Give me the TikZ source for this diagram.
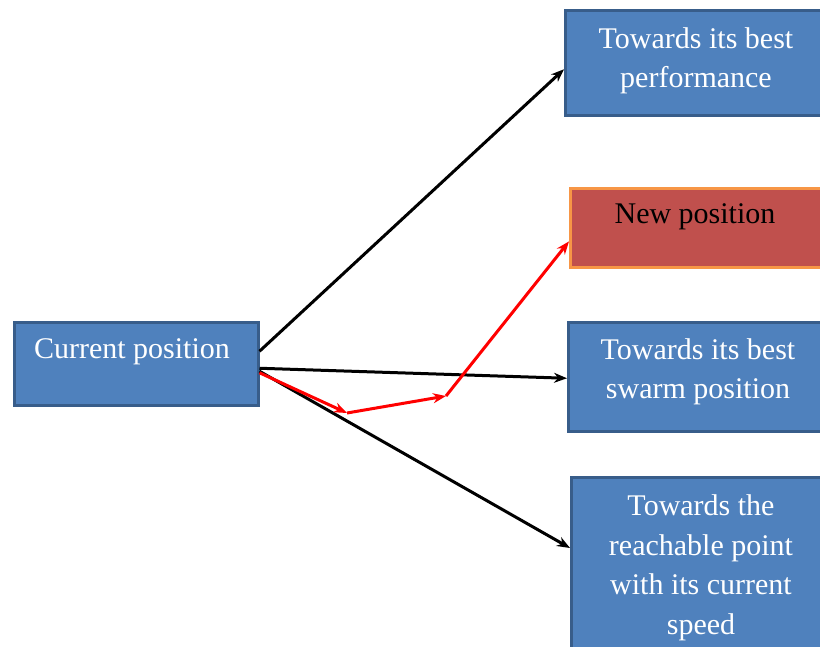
\documentclass[tikz,border=0pt]{standalone}
\usepackage{fontspec}
\setmainfont{Liberation Serif}
\usetikzlibrary{arrows.meta}
\definecolor{boxblue}{HTML}{4F81BD}
\definecolor{boxblueline}{HTML}{385D8A}
\definecolor{boxred}{HTML}{C0504D}
\definecolor{boxorange}{HTML}{F79646}
\tikzset{
  bluebox/.style={draw=boxblueline, fill=boxblue, line width=2.5pt, rectangle,
    anchor=north west, inner sep=0pt},
  redbox/.style={draw=boxorange, fill=boxred, line width=2.8pt, rectangle,
    anchor=north west, inner sep=0pt},
  boxtext/.style={font=\fontsize{30}{39.5}\selectfont, align=center,
    inner sep=0pt, text=white},
  blackarrow/.style={draw=black, line width=3pt,
    -{Stealth[length=13pt,width=10pt]}},
  redarrow/.style={draw=red, line width=3pt,
    -{Stealth[length=13pt,width=10pt]}},
}
\begin{document}
\begin{tikzpicture}[x=1pt,y=-1pt]
\useasboundingbox (0,0) rectangle (820,646);
\clip (0,0) rectangle (820,646);
\fill[white] (0,0) rectangle (820,646);

% boxes
\node[bluebox, minimum width=244pt, minimum height=83pt] (cur) at (13,321) {};
\node[bluebox, minimum width=280pt, minimum height=105pt] (best) at (564,9) {};
\node[redbox, minimum width=280pt, minimum height=79pt] (new) at (569,187) {};
\node[bluebox, minimum width=280pt, minimum height=109pt] (swarm) at (567,321) {};
\node[bluebox, minimum width=280pt, minimum height=190pt] (reach) at (570,476) {};

% labels
\node[boxtext] (curt) at (132,352) {Current position};
\node[boxtext] (bestt) at (696,61) {Towards its best\\performance};
\node[boxtext, text=black] (newt) at (695,217) {New position};
\node[boxtext] (swarmt) at (698,372) {Towards its best\\swarm position};
\node[boxtext] (reacht) at (701,568) {Towards the\\reachable point\\with its current\\speed};

% velocity components
\draw[blackarrow] ([yshift=12.5pt]cur.east) -- ([yshift=-6.5pt]best.west);
\draw[blackarrow] ([yshift=-4.5pt]cur.east) -- ([yshift=-1.5pt]swarm.west);
\draw[blackarrow] ([yshift=-7.5pt]cur.east) -- ([yshift=-72pt]reach.north west);

% resulting move
\coordinate (r1) at (347,413);
\coordinate (r2) at (446,396);
\draw[redarrow] ([yshift=-9pt]cur.east) -- (r1);
\draw[redarrow] (r1) -- (r2);
\draw[redarrow] (r2) -- ([yshift=-13.5pt]new.west);
\end{tikzpicture}
\end{document}
